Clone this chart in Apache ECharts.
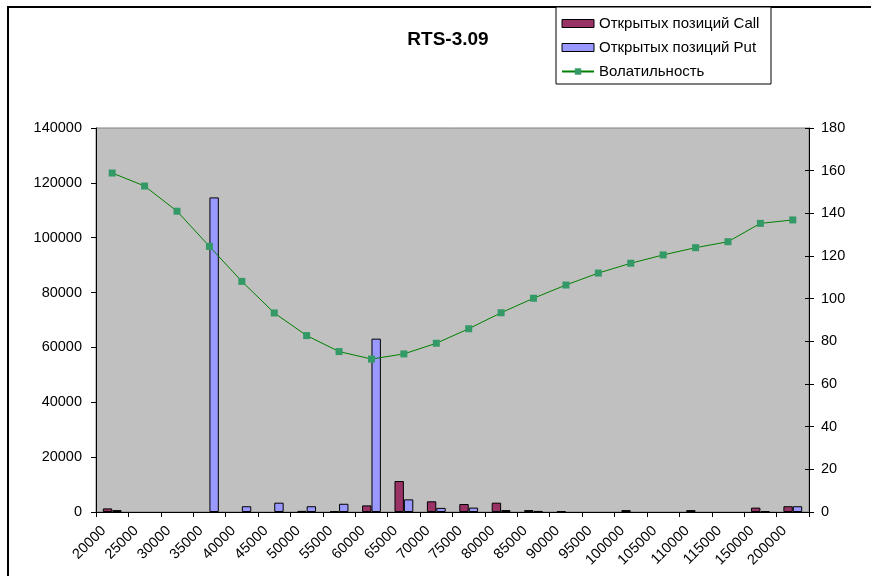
<!DOCTYPE html>
<html>
<head>
<meta charset="utf-8">
<script src="https://cdn.jsdelivr.net/npm/echarts@6/dist/echarts.min.js"></script>
<style>html,body{margin:0;padding:0;background:#fff}#c{width:871px;height:576px}</style>
</head>
<body>
<div id="c"></div>
<script>
const categories = ['20000','25000','30000','35000','40000','45000','50000','55000','60000','65000','70000','75000','80000','85000','90000','95000','100000','105000','110000','115000','150000','200000'];
const callOI = [1300,null,null,null,null,null,400,300,2400,11300,3900,2900,3400,700,300,null,700,null,700,null,1600,2100];
const putOI = [700,null,null,114700,2100,3400,2100,3000,63200,4600,1500,1600,700,400,null,null,null,null,null,null,300,2100];
const volatility = [158.9,152.8,141,124.5,108.1,93.3,82.7,75.2,71.7,74.1,79.1,85.9,93.4,100.2,106.4,112,116.6,120.5,123.9,126.7,135.3,136.9];
const leftTicks = {min:0, max:140000, interval:20000};
const rightTicks = {min:0, max:180, interval:20};

const FONT = 'Liberation Sans, Arial, sans-serif';
const chart = echarts.init(document.getElementById('c'), null, {renderer:'canvas'});
chart.setOption({
  animation:false,
  backgroundColor:'#ffffff',
  title:{text:'RTS-3.09', left:443, top:25, textAlign:'center',
    textStyle:{fontFamily:FONT, fontSize:19, fontWeight:'bold', color:'#000'}},
  graphic:[
    {type:'rect', shape:{x:8, y:7, width:1000, height:1000}, style:{fill:null, stroke:'#000', lineWidth:2}, silent:true, z:-1},
    {type:'rect', shape:{x:556, y:7, width:215, height:77}, style:{fill:'#fff', stroke:'#000', lineWidth:1}, silent:true, z:0}
  ],
  legend:{
    orient:'vertical', left:556, top:11, itemWidth:32, itemHeight:8, itemGap:9,
    textStyle:{fontFamily:FONT, fontSize:15, color:'#000'},
    z:5,
    data:[
      {name:'Открытых позиций Call', icon:'rect', itemStyle:{color:'#993366', borderColor:'#000', borderWidth:1}},
      {name:'Открытых позиций Put', icon:'rect', itemStyle:{color:'#9999FF', borderColor:'#000', borderWidth:1}},
      {name:'Волатильность'}
    ]
  },
  grid:{left:96, right:62, top:128, bottom:64, show:true, backgroundColor:'#C0C0C0', borderColor:'#808080', borderWidth:1},
  xAxis:{type:'category', data:categories, boundaryGap:true,
    axisLine:{lineStyle:{color:'#000', width:1}},
    axisTick:{show:true, interval:0, length:5, lineStyle:{color:'#000'}},
    axisLabel:{interval:0, rotate:45, fontFamily:FONT, fontSize:14.5, color:'#000', margin:8, padding:[0,12,0,0]},
    splitLine:{show:false}},
  yAxis:[
    {type:'value', min:leftTicks.min, max:leftTicks.max, interval:leftTicks.interval, position:'left',
      axisLine:{show:true, lineStyle:{color:'#000'}},
      axisTick:{show:true, length:5, lineStyle:{color:'#000'}},
      axisLabel:{fontFamily:FONT, fontSize:14.5, color:'#000', margin:14, formatter:function(v){return String(v);}},
      splitLine:{show:false}},
    {type:'value', min:rightTicks.min, max:rightTicks.max, interval:rightTicks.interval, position:'right',
      axisLine:{show:true, lineStyle:{color:'#000'}},
      axisTick:{show:true, length:5, lineStyle:{color:'#000'}},
      axisLabel:{fontFamily:FONT, fontSize:14.5, color:'#000', margin:12},
      splitLine:{show:false}},
    {type:'value', min:rightTicks.min, max:rightTicks.max, interval:rightTicks.interval, position:'right',
      axisLine:{show:false},
      axisTick:{show:true, inside:true, length:4, lineStyle:{color:'#000'}},
      axisLabel:{show:false},
      splitLine:{show:false}}
  ],
  series:[
    {name:'Открытых позиций Call', type:'bar', data:callOI, yAxisIndex:0, barGap:'0%', barWidth:'29%',
      itemStyle:{color:'#993366', borderColor:'#000', borderWidth:1}},
    {name:'Открытых позиций Put', type:'bar', data:putOI, yAxisIndex:0, barGap:'0%', barWidth:'29%',
      itemStyle:{color:'#9999FF', borderColor:'#000', borderWidth:1}},
    {name:'Волатильность', type:'line', data:volatility, yAxisIndex:1, symbol:'rect', symbolSize:7,
      lineStyle:{color:'#008000', width:1}, itemStyle:{color:'#339966', borderWidth:0}, z:4}
  ]
});
</script>
</body>
</html>
